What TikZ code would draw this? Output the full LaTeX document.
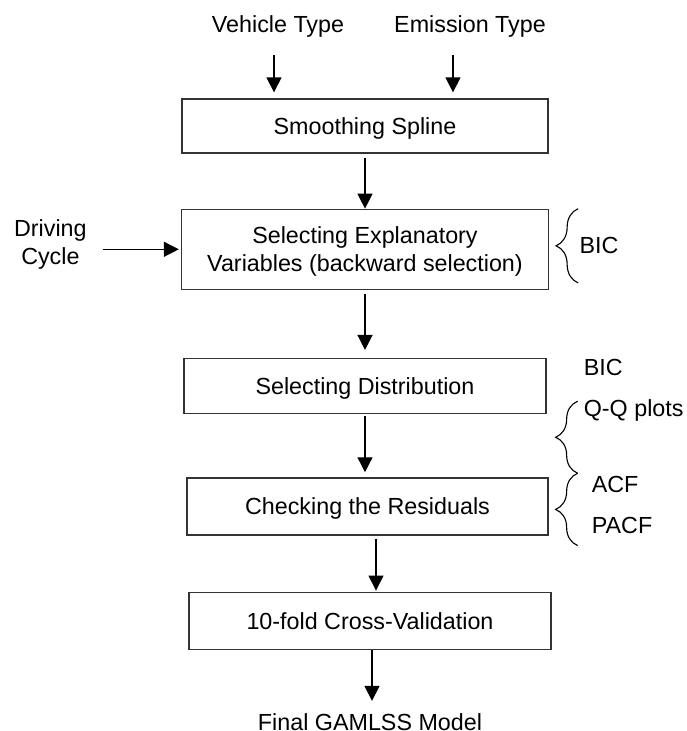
\documentclass[tikz,border=0pt]{standalone}
\usepackage{fontspec}
\setmainfont{Liberation Sans}
\usepackage{tikz}
\usetikzlibrary{arrows.meta,positioning,decorations.pathreplacing}

\begin{document}
\begin{tikzpicture}[
  font=\fontsize{23.3}{28}\selectfont,
  box/.style={draw=black!80, line width=1.3pt, align=center, inner sep=0pt, text depth=0pt},
  lbl/.style={inner sep=0pt, align=center},
  arr/.style={-{Triangle[width=15pt,length=15pt]}, line width=1.3pt},
  brc/.style={decorate, decoration={brace, amplitude=22pt}, line width=1.1pt}
]
\useasboundingbox (-365pt,-605pt) rectangle (322pt,126pt);

\node[box, minimum width=366pt, minimum height=54pt] (smooth) {Smoothing Spline};
\node[box, minimum width=367pt, minimum height=80pt, below=55pt of smooth] (explan) {Selecting Explanatory\\Variables (backward selection)};
\node[box, minimum width=362pt, minimum height=55pt, below=68pt of explan] (distrib) {Selecting Distribution};
\node[box, minimum width=361pt, minimum height=57pt, below=63pt of distrib, xshift=2.5pt] (resid) {Checking the Residuals};
\node[box, minimum width=362pt, minimum height=57pt, below=56pt of resid, xshift=2.5pt] (cv) {10-fold Cross-Validation};
\node[lbl, below=64pt of cv] (final) {Final GAMLSS Model};

\node[lbl, above=61pt of smooth.north, xshift=-87pt] (vehicle) {Vehicle Type};
\node[lbl, above=61pt of smooth.north, xshift=105pt] (emission) {Emission Type};
\node[lbl, left=94pt of explan, yshift=5pt] (drive) {Driving\\Cycle};

\draw[arr, shorten <=18pt, shorten >=6pt] ([xshift=-4pt]vehicle.south) -- ([xshift=-4pt]vehicle.south |- smooth.north);
\draw[arr, shorten <=18pt, shorten >=6pt] ([xshift=-17pt]emission.south) -- ([xshift=-17pt]emission.south |- smooth.north);
\draw[arr, shorten <=4pt] (smooth.south) -- (smooth.south |- explan.north);
\draw[arr, shorten <=16pt, shorten >=2pt] (drive.east |- explan.west) -- (explan.west);
\draw[arr, shorten <=4pt, shorten >=8pt] (explan.south) -- (explan.south |- distrib.north);
\draw[arr, shorten <=2pt, shorten >=5pt] (distrib.south) -- (distrib.south |- resid.north);
\draw[arr, shorten <=3pt, shorten >=1pt] ([xshift=8.5pt]resid.south) -- ([xshift=8.5pt]resid.south |- cv.north);
\draw[arr, shorten >=13pt] ([xshift=2pt]cv.south) -- ([xshift=2pt]cv.south |- final.north);

% braces on the right
\coordinate (b1top) at ([xshift=29pt]explan.north east);
\coordinate (b1bot) at ([xshift=29pt,yshift=7pt]explan.south east);
\coordinate (b2top) at ([xshift=31pt,yshift=13pt]distrib.south east);
\coordinate (b2bot) at ([xshift=29pt,yshift=4pt]resid.north east);
\coordinate (b3bot) at ([xshift=29pt,yshift=-10pt]resid.south east);

\draw[brc] (b1bot) -- (b1top) node[lbl, midway, right=1pt] (bicA) {BIC};
\draw[brc] (b2bot) -- (b2top);
\draw[brc] (b3bot) -- (b2bot);

\node[lbl, anchor=base west] (bicB) at ([xshift=6pt,yshift=26pt]b2top) {BIC};
\node[lbl, anchor=base west] (qq) at ([xshift=6pt,yshift=-15pt]b2top) {Q-Q plots};
\node[lbl, anchor=base west] (acf) at ([xshift=14pt,yshift=-19pt]b2bot) {ACF};
\node[lbl, anchor=base west] (pacf) at ([xshift=14pt,yshift=12pt]b3bot) {PACF};
\end{tikzpicture}
\end{document}
